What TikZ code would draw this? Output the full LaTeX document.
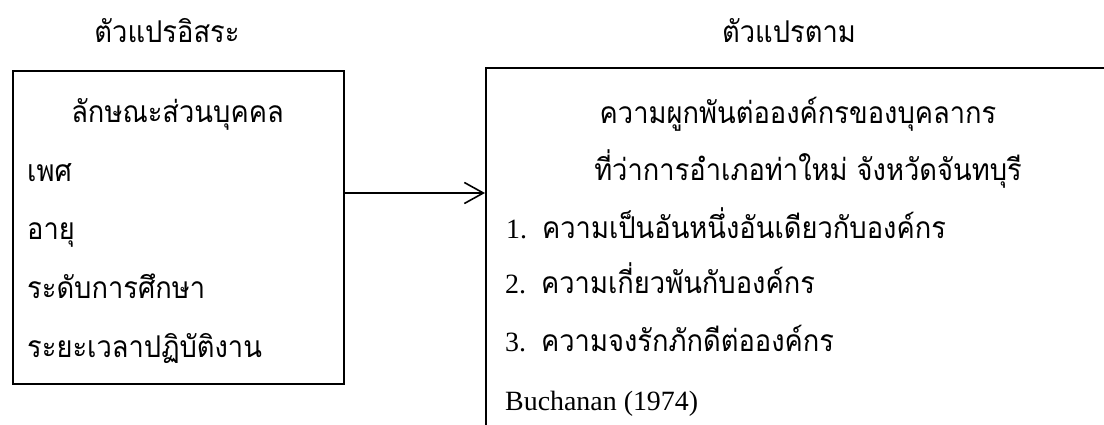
\documentclass[tikz,border=0pt]{standalone}
\usepackage{fontspec}
\setmainfont{Liberation Serif}
\newfontfamily\thaifnt[Script=Thai,FakeStretch=0.91]{Loma}
\usetikzlibrary{arrows.meta}
\newcommand\thaitext{\thaifnt\fontsize{30}{36}\selectfont}
\newcommand\latintext{\fontsize{27.9}{32}\selectfont}
\tikzset{
  box/.style={draw, line width=1.6pt, inner sep=0pt},
  lbl/.style={inner sep=0pt, font=\thaitext},
  lat/.style={inner sep=0pt, font=\latintext},
  arr/.style={line width=1.6pt, -{Straight Barb[length=19pt,width=21pt]}},
}
\begin{document}
\begin{tikzpicture}[x=1pt,y=1pt]
\useasboundingbox (0,0) rectangle (1104,-425);
\clip (0,0) rectangle (1104,-425);
% titles
\node[lbl, anchor=base] (t1) at (167,-43) {ตัวแปรอิสระ};
\node[lbl, anchor=base] (t2) at (789,-43) {ตัวแปรตาม};
% boxes
\node[box, minimum width=331pt, minimum height=313pt, anchor=north west] (L) at (12,-70) {};
\node[box, minimum width=645pt, minimum height=373pt, anchor=north west] (R) at (485,-67) {};
% left box text
\node[lbl, anchor=base] (l0) at (177.5,-123) {ลักษณะส่วนบุคคล};
\node[lbl, anchor=base west] (l1) at (27,-181.5) {เพศ};
\node[lbl, anchor=base west] (l2) at (27,-240) {อายุ};
\node[lbl, anchor=base west] (l3) at (27,-298.5) {ระดับการศึกษา};
\node[lbl, anchor=base west] (l4) at (27,-357) {ระยะเวลาปฏิบัติงาน};
% right box text
\node[lbl, anchor=base] (r0) at (798,-124) {ความผูกพันต่อองค์กรของบุคลากร};
\node[lbl, anchor=base] (r1) at (808,-181) {ที่ว่าการอำเภอท่าใหม่ จังหวัดจันทบุรี};
\node[lat, anchor=base west] (r2) at (506,-238) {1.\hspace{15pt}{\thaitext ความเป็นอันหนึ่งอันเดียวกับองค์กร}};
\node[lat, anchor=base west] (r3) at (505,-293) {2.\hspace{15pt}{\thaitext ความเกี่ยวพันกับองค์กร}};
\node[lat, anchor=base west] (r4) at (505,-351) {3.\hspace{15pt}{\thaitext ความจงรักภักดีต่อองค์กร}};
\node[lat, anchor=base west] (r5) at (505,-410) {Buchanan (1974)};
% connector
\coordinate (ay) at (0,-193);
\draw[arr] (L.east |- ay) -- (R.west |- ay);
\end{tikzpicture}
\end{document}
